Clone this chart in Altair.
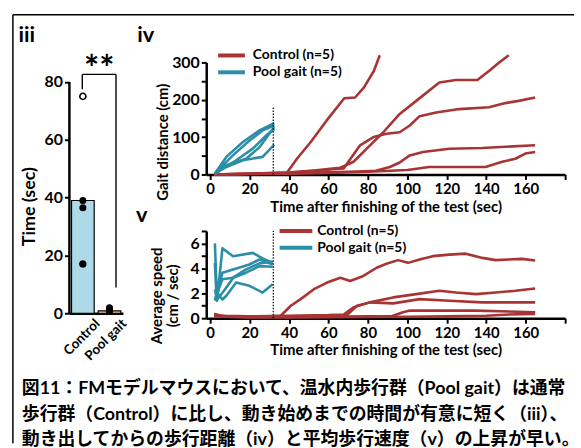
import altair as alt
import pandas as pd

FONT = "Lato"
CAP_FONT = "Lato, 'Noto Sans CJK JP'"
RED = "#a83434"
TEAL = "#2b8ea6"
CTRL = "Control (n=5)"
POOL = "Pool gait (n=5)"

# ---------------- panel iii : latency to start moving ----------------
groups = ["Control", "Pool gait"]
mean_time = [39.0, 0.8]
bar_fill = ["#aed9e8", "#f6c995"]
ctrl_time_filled = [39.0, 36.5, 17.0, 17.0]
ctrl_time_open = [75.0]
pool_time = [0.6, 1.0, 1.4, 1.9, 0.8]

# ---------------- panel iv : gait distance (cm) ----------------
iv_c1_t = [2, 10, 20, 30, 37, 39, 44, 51, 59, 68, 73.5, 78, 83, 86]
iv_c1_v = [0, 1, 2, 3, 3, 5, 42, 87, 144, 204, 206, 233, 277, 319]
iv_c2_t = [2, 20, 40, 55, 62, 66, 72.7, 79.4, 87.8, 96.1, 104.5, 116.2, 124.6, 135.5, 141.4, 146.4, 151.4]
iv_c2_v = [0, 2, 5, 12, 16, 18, 34, 69, 113, 162, 197, 246, 253, 253, 277, 299, 319]
iv_c3_t = [2, 20, 40, 55, 62, 67.7, 76, 82.8, 89.4, 96.1, 101.2, 106.2, 114.6, 126.3, 141.4, 149.7, 156.4, 164.8]
iv_c3_v = [0, 2, 5, 10, 14, 16, 78, 100, 109, 113, 131, 156, 166, 175, 180, 191, 197, 206]
iv_c4_t = [2, 20, 40, 60, 75, 84, 91.1, 96.1, 101.2, 107.9, 121.3, 138, 164.8]
iv_c4_v = [0, 1, 3, 6, 8, 10, 20, 32, 51, 60, 69, 71, 78]
iv_c5_t = [2, 20, 40, 60, 80, 100, 111, 139.6, 148.1, 154.8, 159.8, 164.8]
iv_c5_v = [0, 1, 2, 4, 7, 12, 20, 20, 34, 42, 56, 60]

iv_p1_t = [2.3, 8.2, 16.6, 25, 32.5]
iv_p1_v = [2, 47, 87, 118, 137]
iv_p2_t = [2.3, 11.5, 20, 26.6, 32.5]
iv_p2_v = [2, 51, 91, 118, 131]
iv_p3_t = [2.3, 13.2, 21.6, 28.3, 32.5]
iv_p3_v = [2, 38, 69, 104, 122]
iv_p4_t = [2.3, 8.2, 18.2, 25, 32.5]
iv_p4_v = [2, 25, 42, 73, 127]
iv_p5_t = [2.3, 8.2, 16.6, 26.6, 32.5]
iv_p5_v = [2, 20, 38, 47, 80]

# ---------------- panel v : average speed (cm/sec) ----------------
v_c1_t = [2, 4, 10, 20, 30, 35.8, 40.9, 45.9, 52.6, 59.3, 66, 71, 77.7, 84.4, 89.4, 95.3, 100.3, 106.2,
          112.9, 121.3, 129.6, 138, 144.7, 151.4, 158.1, 164.8]
v_c1_v = [0.3, 0.25, 0.1, 0.1, 0.15, 0.2, 1.0, 1.53, 2.33, 2.86, 3.25, 2.99, 3.39, 4.05, 4.37, 4.66, 4.44,
          4.71, 4.98, 5.1, 5.18, 4.84, 4.66, 4.71, 4.76, 4.63]
v_c2_t = [2, 5, 20, 40, 60, 67.7, 72.7, 81, 92.8, 104.5, 116.2, 124.6, 134.7, 144.7, 154.8, 164.8]
v_c2_v = [0.35, 0.2, 0.15, 0.2, 0.25, 0.3, 0.87, 1.27, 1.67, 1.93, 2.2, 2.06, 1.93, 2.06, 2.2, 2.38]
v_c3_t = [2, 5, 20, 40, 60, 69.4, 74.4, 81, 92.8, 106.2, 121.3, 138, 164.8]
v_c3_v = [0.25, 0.15, 0.1, 0.15, 0.2, 0.25, 1.0, 1.27, 1.19, 1.53, 1.4, 1.27, 1.27]
v_c4_t = [2, 20, 40, 60, 80, 92, 97.8, 101.2, 134.7, 164.8]
v_c4_v = [0.2, 0.1, 0.1, 0.12, 0.15, 0.15, 0.48, 0.61, 0.61, 0.48]
v_c5_t = [2, 20, 40, 60, 80, 100, 120, 140, 151.4, 164.8]
v_c5_v = [0.15, 0.05, 0.05, 0.08, 0.1, 0.12, 0.15, 0.2, 0.3, 0.35]

v_p1_t = [2.4, 3.5, 6.2, 11.6, 21.6, 26.6, 31.7]
v_p1_v = [6.0, 1.4, 5.6, 4.97, 5.24, 4.8, 4.44]
v_p2_t = [2.4, 3.2, 6.2, 11.6, 19.9, 25, 31.7]
v_p2_v = [4.44, 1.67, 3.65, 3.91, 4.31, 4.71, 4.31]
v_p3_t = [2.4, 6.2, 11.6, 18.2, 25, 31.7]
v_p3_v = [1.53, 3.12, 3.25, 3.65, 4.18, 4.13]
v_p4_t = [2.4, 4, 6.2, 8.2, 13.2, 19.9, 26.6, 31.7]
v_p4_v = [1.4, 1.93, 1.5, 1.8, 2.86, 2.6, 2.06, 2.72]
v_p5_t = [2.4, 3.5, 7, 12, 18, 25, 31.7]
v_p5_v = [2.3, 1.5, 2.2, 3.3, 3.9, 4.4, 4.55]

# dotted marker of the end of the pool-gait recording
marker_t = 32
iv_marker_top = 180
v_marker_top = 7

caption_lines = [
    "図11：FMモデルマウスにおいて、温水内歩行群（Pool gait）は通常",
    "歩行群（Control）に比し、動き始めまでの時間が有意に短く（iii）、",
    "動き出してからの歩行距離（iv）と平均歩行速度（v）の上昇が早い。",
]


def series(group, sid, ts, vs):
    return pd.DataFrame({"group": group, "id": sid, "t": ts, "v": vs, "i": list(range(len(ts)))})


iv_df = pd.concat([
    series(CTRL, "c1", iv_c1_t, iv_c1_v), series(CTRL, "c2", iv_c2_t, iv_c2_v),
    series(CTRL, "c3", iv_c3_t, iv_c3_v), series(CTRL, "c4", iv_c4_t, iv_c4_v),
    series(CTRL, "c5", iv_c5_t, iv_c5_v),
    series(POOL, "p1", iv_p1_t, iv_p1_v), series(POOL, "p2", iv_p2_t, iv_p2_v),
    series(POOL, "p3", iv_p3_t, iv_p3_v), series(POOL, "p4", iv_p4_t, iv_p4_v),
    series(POOL, "p5", iv_p5_t, iv_p5_v),
])
v_df = pd.concat([
    series(CTRL, "c1", v_c1_t, v_c1_v), series(CTRL, "c2", v_c2_t, v_c2_v),
    series(CTRL, "c3", v_c3_t, v_c3_v), series(CTRL, "c4", v_c4_t, v_c4_v),
    series(CTRL, "c5", v_c5_t, v_c5_v),
    series(POOL, "p1", v_p1_t, v_p1_v), series(POOL, "p2", v_p2_t, v_p2_v),
    series(POOL, "p3", v_p3_t, v_p3_v), series(POOL, "p4", v_p4_t, v_p4_v),
    series(POOL, "p5", v_p5_t, v_p5_v),
])

one = pd.DataFrame({"k": [0]})
TICKS = dict(ticks=True, tickSize=5, tickWidth=2, tickColor="black", labelOverlap=False,
             domainColor="black", domainWidth=2.5)

# ================= panel iii =================
bar_df = pd.DataFrame({"group": groups, "time": mean_time, "fill": bar_fill})
pts_df = pd.DataFrame({"group": ["Control"] * len(ctrl_time_filled) + ["Pool gait"] * len(pool_time),
                       "time": ctrl_time_filled + pool_time})
open_df = pd.DataFrame({"group": ["Control"] * len(ctrl_time_open), "time": ctrl_time_open})

x_iii = alt.X("group:N", sort=groups,
              scale=alt.Scale(domain=groups, paddingInner=0.15, paddingOuter=0.08),
              axis=alt.Axis(title=None, labelAngle=-45, labelAlign="right", labelBaseline="middle",
                            labelFontSize=13.5, labelPadding=8, labelOffset=15, ticks=False,
                            domainColor="black", domainWidth=2.5))
y_iii = alt.Y("time:Q", scale=alt.Scale(domain=[0, 86.75], nice=False),
              axis=alt.Axis(values=list(range(0, 81, 10)),
                            labelExpr="indexof([0, 20, 40, 60, 80], datum.value) >= 0 ? datum.label : ''",
                            domain=False, title="Time (sec)", titleFontSize=18,
                            titleX=-40, titleY=145, titleBaseline="middle", labelFontSize=16,
                            ticks=True, tickSize=5, tickWidth=2, tickColor="black", labelOverlap=False))

bars = alt.Chart(bar_df).mark_bar(stroke="black", strokeWidth=1.2).encode(
    x=x_iii, y=y_iii, fill=alt.Fill("fill:N", scale=None))
ydom = alt.Chart(one).mark_rule(color="black", strokeWidth=2.5).encode(
    x=alt.value(0), y=alt.datum(0), y2=alt.datum(80))
pts = alt.Chart(pts_df).mark_circle(size=50, color="black", opacity=1).encode(x=x_iii, y=y_iii)
opts = alt.Chart(open_df).mark_point(shape="circle", size=38, fill="white", fillOpacity=1,
                                     stroke="black", strokeWidth=1.6, opacity=1).encode(x=x_iii, y=y_iii)
br_left = alt.Chart(one).mark_rule(color="black", strokeWidth=1.4).encode(
    x=alt.value(13), y=alt.datum(77.5), y2=alt.datum(82.6))
br_top = alt.Chart(one).mark_rule(color="black", strokeWidth=1.4).encode(
    x=alt.value(13), x2=alt.value(47), y=alt.datum(82.6))
br_right = alt.Chart(one).mark_rule(color="black", strokeWidth=1.4).encode(
    x=alt.value(47), y=alt.datum(8.9), y2=alt.datum(82.6))


def label(txt, x, y, size, font=FONT, align="center", color="black"):
    return alt.Chart(pd.DataFrame({"t": [txt]})).mark_text(
        font=font, fontSize=size, fontWeight="bold", align=align, baseline="middle", color=color
    ).encode(text="t:N", x=alt.value(x), y=alt.value(y))


stars = label("**", 30, 8, 36)
lab_iii = label("iii", -43, -28, 22)
lab_iv = label("iv", 77, -28, 22)
lab_v = label("v", 73, 154, 22)
caps = [label(caption_lines[k], -48, 329.5 + 25.8 * k, 18, font=CAP_FONT, align="left") for k in range(3)]

frame_top = alt.Chart(one).mark_rule(color="black", strokeWidth=1.5).encode(
    x=alt.value(-57), x2=alt.value(509), y=alt.value(-48))
frame_left = alt.Chart(one).mark_rule(color="black", strokeWidth=1.5).encode(
    x=alt.value(-57), y=alt.value(-48), y2=alt.value(384))

iii = alt.layer(frame_top, frame_left, bars, ydom, pts, opts, br_left, br_top, br_right,
                stars, lab_iii, lab_iv, lab_v, *caps).properties(width=54, height=253)

# ================= panels iv & v =================
color_scale = alt.Scale(domain=[CTRL, POOL], range=[RED, TEAL])

X_TIME = alt.X("t:Q", scale=alt.Scale(domain=[-2, 180], nice=False, zero=False),
               axis=alt.Axis(values=list(range(0, 181, 20)),
                             labelExpr="datum.value > 170 ? '' : datum.label",
                             title="Time after finishing of the test (sec)",
                             titleY=32, titleBaseline="middle", labelPadding=2, **TICKS))

Y_IV = alt.Y("v:Q", scale=alt.Scale(domain=[0, 300], nice=False),
             axis=alt.Axis(values=list(range(0, 301, 50)),
                           labelExpr="indexof([0, 100, 200, 300], datum.value) >= 0 ? datum.label : ''",
                           title="Gait distance (cm)", titleX=-44, titleY=80, titleBaseline="middle",
                           labelFontSize=16, **TICKS))
Y_V = alt.Y("v:Q", scale=alt.Scale(domain=[0, 7], nice=False),
            axis=alt.Axis(values=list(range(0, 8)),
                          labelExpr="indexof([0, 2, 4, 6], datum.value) >= 0 ? datum.label : ''",
                          title=["Average speed", "(cm / sec)"], titleX=-50, titleY=65,
                          titleBaseline="middle", titleLineHeight=16, labelFontSize=16, **TICKS))


def key(x1, x2, y, color, txt, tx):
    sw = alt.Chart(one).mark_rule(color=color, strokeWidth=4).encode(
        x=alt.value(x1), x2=alt.value(x2), y=alt.value(y))
    return [sw, label(txt, tx, y, 14, align="left")]


def marker(top, yenc):
    df = pd.DataFrame({"t": [marker_t], "v": [0], "v2": [top]})
    return alt.Chart(df).mark_rule(strokeDash=[1.5, 1.5], strokeWidth=1.2, color="black").encode(
        x=X_TIME, y=yenc, y2="v2:Q")


iv_lines = alt.Chart(iv_df).mark_line(strokeWidth=2.6, strokeJoin="round").encode(
    x=X_TIME, y=Y_IV,
    color=alt.Color("group:N", scale=color_scale, legend=None),
    detail="id:N", order="i:Q")
iv_key = key(12, 39, -7, RED, CTRL, 47) + key(12, 39, 10, TEAL, POOL, 47)
iv = alt.layer(iv_lines, marker(iv_marker_top, Y_IV), *iv_key).properties(width=362, height=113)

v_lines = alt.Chart(v_df).mark_line(strokeWidth=2.6, strokeJoin="round").encode(
    x=X_TIME.copy(), y=Y_V,
    color=alt.Color("group:N", scale=color_scale, legend=None),
    detail="id:N", order="i:Q")
v_key = key(74, 107, 0, RED, CTRL, 112) + key(74, 107, 17, TEAL, POOL, 112)
v = alt.layer(v_lines, marker(v_marker_top, Y_V), *v_key).properties(width=362, height=88)

right = alt.vconcat(iv, v, spacing=57, bounds="flush")
chart = alt.hconcat(iii, right, spacing=84, bounds="flush").properties(
    padding={"left": 12, "top": 12, "right": 0, "bottom": 0}, background="white"
).configure_axis(
    domainColor="black", domainWidth=2.5, tickColor="black", tickWidth=2, tickSize=5,
    labelColor="black", titleColor="black", labelFont=FONT, titleFont=FONT,
    labelFontWeight="bold", titleFontWeight="bold", labelFontSize=15, titleFontSize=15, grid=False
).configure_view(stroke=None)

chart.save("out.html", embed_options={"renderer": "svg", "actions": False})
